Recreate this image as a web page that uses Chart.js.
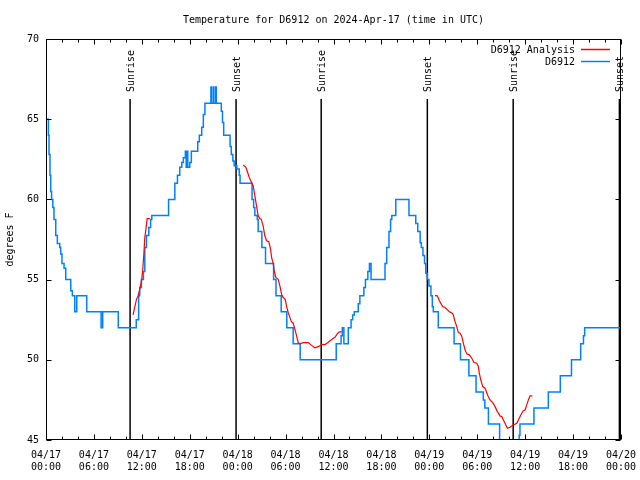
<!DOCTYPE html>
<html>
<head>
<meta charset="utf-8">
<script src="https://cdn.jsdelivr.net/npm/chart.js@4/dist/chart.umd.min.js"></script>
<style>
html,body{margin:0;padding:0;background:#fff;}
#wrap{width:640px;height:480px;}
</style>
</head>
<body>
<div id="wrap"><canvas id="c" width="640" height="480"></canvas></div>
<script>
// ---- Data (hours since 2024-04-17 00:00 UTC) ----
const chartTitle = 'Temperature for D6912 on 2024-Apr-17 (time in UTC)';
const yAxisTitle = 'degrees F';
const tickDates = ['04/17','04/17','04/17','04/17','04/18','04/18','04/18','04/18','04/19','04/19','04/19','04/19','04/20'];
const tickTimes = ['00:00','06:00','12:00','18:00','00:00','06:00','12:00','18:00','00:00','06:00','12:00','18:00','00:00'];

const sunriseHours = [10.53, 34.46, 58.5];
const sunsetHours = [23.8, 47.75, 71.8];

const obsLabel = 'D6912';
const obsHours = [0.0,0.3,0.38,0.5,0.59,0.7,0.85,1.0,1.22,1.42,1.72,1.84,2.0,2.26,2.47,3.1,3.3,3.6,3.85,5.1,6.9,7.1,9.05,
  11.3,11.6,11.74,11.95,12.2,12.37,12.58,12.87,13.1,13.25,15.35,16.13,16.46,16.75,17.0,17.2,17.45,17.55,17.65,17.75,18.0,18.2,
  19.0,19.2,19.5,19.7,19.9,20.65,20.72,20.95,21.02,21.25,21.32,21.95,22.1,22.25,23.05,23.2,23.4,23.56,23.9,24.2,24.3,25.8,26.0,
  26.15,26.45,26.57,27.03,27.49,28.5,28.8,29.45,30.15,30.95,31.83,36.34,36.95,37.1,37.3,37.85,38.2,38.4,38.6,39.1,39.3,39.8,
  40.0,40.3,40.5,40.7,42.45,42.66,42.95,43.15,43.3,43.8,45.45,46.3,46.55,46.85,47.0,47.2,47.4,47.55,47.75,47.95,48.2,48.37,
  48.5,49.12,51.1,51.9,52.95,53.85,54.75,54.95,55.4,56.8,59.25,59.35,61.1,62.9,64.4,65.8,66.95,67.3,67.45,72.0];
const obsTemps = [65,64,62.8,61.5,60.5,60,59.5,58.75,57.75,57.25,57,56.6,56,55.7,55,54.3,54,53,54,53,52,53,52,
  52.5,54,54.5,55,55.5,57,57.75,58.25,58.75,59,60,61,61.5,62,62.3,62.6,63,62,63,62,62.3,63,
  63.6,64,64.5,65.3,66,67,66,67,66,67,66,65.5,64.8,64,63.3,62.8,62.4,62.1,61.9,61.5,61,60,59.5,
  59,58.75,58,57,56,55,54,53,52,51,50,51,51.5,52,51,52,52.5,52.8,53,53.5,54,54.5,
  55,55.5,56,55,56,57,58,58.75,59,60,59,58.5,58,57.3,57,56.5,56,55.4,55,54.6,54,53.3,
  53,52,51,50,49,48,47.5,47,46,44,45.3,46,47,48,49,50,51,51.5,52,52];

const anaLabel = 'D6912 Analysis';
const anaHours = [10.9,11.12,11.33,11.53,11.74,11.95,12.08,12.24,12.37,12.5,12.66,13.0, null,
  24.69,25.03,25.24,25.44,25.74,25.94,26.15,26.36,26.57,26.78,26.94,27.19,27.4,27.62,27.9,28.12,28.25,28.45,28.58,28.78,
  29.07,29.29,29.5,29.7,29.95,30.12,30.33,30.54,30.75,30.96,31.17,31.38,31.58,31.79,32.21,32.83,33.26,33.67,34.09,34.51,
  34.93,35.34,35.76,36.18,36.47,36.68,37.02, null,
  48.71,49.0,49.21,49.42,49.67,49.96,50.17,50.5,50.88,51.0,51.22,51.43,51.63,51.84,52.05,52.26,52.47,52.68,53.01,53.31,
  53.6,53.94,54.14,54.26,54.44,54.69,54.97,55.19,55.39,55.6,55.94,56.23,56.52,56.86,57.07,57.27,57.48,57.77,58.11,58.32,
  58.52,58.95,59.15,59.36,59.57,59.77,59.99,60.2,60.4,60.61,60.9];
const anaTemps = [52.8,53.3,53.77,54.0,54.4,54.9,55.4,56.5,57.6,58.1,58.8,58.8, null,
  62.14,62.0,61.69,61.38,61.06,60.85,60.23,59.6,58.98,58.8,58.77,58.35,57.73,57.42,57.36,56.9,56.38,56.0,55.54,55.13,
  55.02,54.6,54.09,53.88,53.77,53.36,52.94,52.63,52.36,52.28,51.9,51.49,51.07,51.0,51.07,51.07,50.9,50.75,50.82,50.94,
  50.94,51.1,51.26,51.4,51.61,51.73,51.76, null,
  54.0,53.99,53.74,53.53,53.32,53.26,53.16,53.0,52.9,52.8,52.38,52.07,51.7,51.66,51.49,51.04,50.62,50.37,50.31,50.1,
  49.83,49.79,49.58,49.16,48.75,48.33,48.23,47.95,47.7,47.5,47.33,47.08,46.77,46.5,46.46,46.25,46.04,45.73,45.79,45.88,
  45.94,46.04,46.25,46.46,46.67,46.83,46.87,47.19,47.5,47.75,47.75];

// ---- Build points ----
const obsPoints = obsHours.map((h, i) => ({x: h, y: obsTemps[i]}));
const anaPoints = anaHours.map((h, i) => ({x: h === null ? (anaHours[i-1] + 0.01) : h, y: anaTemps[i]}));

const FONT = "'DejaVu Sans Mono', 'Liberation Mono', monospace";
const RED = '#ff0000';
const BLUE = '#0080ff';

const decor = {
  id: 'decor',
  beforeDatasetsDraw(chart) {
    const {ctx, chartArea: a, scales: {x}} = chart;
    ctx.save();
    ctx.strokeStyle = '#000';
    ctx.lineWidth = 1.5;
    ctx.fillStyle = '#000';
    ctx.font = '10px ' + FONT;
    const marks = sunriseHours.map(h => [h, 'Sunrise']).concat(sunsetHours.map(h => [h, 'Sunset']));
    marks.forEach(([h, t]) => {
      const px = x.getPixelForValue(h);
      ctx.beginPath();
      ctx.moveTo(px, a.top + 60);
      ctx.lineTo(px, a.bottom);
      ctx.stroke();
      ctx.save();
      ctx.translate(px + 1, a.top + 53);
      ctx.rotate(-Math.PI / 2);
      ctx.textAlign = 'left';
      ctx.textBaseline = 'middle';
      ctx.fillText(t, 0, 0);
      ctx.restore();
    });
    ctx.restore();
  },
  afterDraw(chart) {
    const {ctx, chartArea: a, scales: {x, y}} = chart;
    ctx.save();
    ctx.strokeStyle = '#000';
    ctx.lineWidth = 1;
    const L = Math.round(a.left) + 0.5, R = Math.round(a.right) - 0.5;
    const T = Math.round(a.top) + 0.5, B = Math.round(a.bottom) - 0.5;
    ctx.strokeRect(L, T, R - L, B - T);
    ctx.beginPath();
    for (let h = 0; h <= 72; h += 2) {
      const px = Math.round(x.getPixelForValue(h)) + 0.5;
      const len = (h % 6 === 0) ? 5 : 3;
      ctx.moveTo(px, B); ctx.lineTo(px, B - len);
      ctx.moveTo(px, T); ctx.lineTo(px, T + len);
    }
    for (let v = 45; v <= 70; v += 5) {
      const py = Math.round(y.getPixelForValue(v)) + 0.5;
      ctx.moveTo(L, py); ctx.lineTo(L + 5, py);
      ctx.moveTo(R, py); ctx.lineTo(R - 5, py);
    }
    ctx.stroke();
    // legend
    ctx.font = '10px ' + FONT;
    ctx.fillStyle = '#000';
    ctx.textAlign = 'right';
    ctx.textBaseline = 'middle';
    const ds = chart.data.datasets;
    ds.forEach((d, i) => {
      const ty = a.top + 11 + i * 12;
      ctx.fillText(d.label, a.right - 46, ty);
      ctx.strokeStyle = d.borderColor;
      ctx.lineWidth = 1.5;
      ctx.beginPath();
      ctx.moveTo(a.right - 40, ty - 0.5);
      ctx.lineTo(a.right - 11, ty - 0.5);
      ctx.stroke();
    });
    ctx.restore();
  }
};

new Chart(document.getElementById('c'), {
  type: 'line',
  data: {
    datasets: [
      {label: anaLabel, data: anaPoints, borderColor: RED, backgroundColor: RED, borderWidth: 1.2,
       pointRadius: 0, tension: 0, spanGaps: false},
      {label: obsLabel, data: obsPoints, borderColor: BLUE, backgroundColor: BLUE, borderWidth: 1.5,
       pointRadius: 0, stepped: 'before'}
    ]
  },
  options: {
    responsive: false,
    animation: false,
    events: [],
    layout: {padding: {top: 0, right: 19, bottom: 0, left: 0}},
    plugins: {
      legend: {display: false},
      tooltip: {enabled: false},
      title: {
        display: true, text: chartTitle, fullSize: false, color: '#000',
        font: {family: FONT, size: 10, weight: 'normal'},
        padding: {top: 14, bottom: 13}
      }
    },
    scales: {
      x: {
        type: 'linear', min: 0, max: 72,
        grid: {display: false, drawTicks: false},
        border: {display: false},
        afterFit(s) { s.height = 40; s.paddingLeft = 0; s.paddingRight = 0; },
        ticks: {
          stepSize: 6, autoSkip: false, maxRotation: 0, color: '#000', padding: 9,
          font: {family: FONT, size: 10},
          callback: (v) => { const i = Math.round(v / 6); return [tickDates[i], tickTimes[i]]; }
        }
      },
      y: {
        min: 45, max: 70,
        grid: {display: false, drawTicks: false},
        border: {display: false},
        afterFit(s) { s.width = 46; s.paddingTop = 0; s.paddingBottom = 0; },
        title: {display: true, text: yAxisTitle, color: '#000', font: {family: FONT, size: 10}, padding: {top: 4, bottom: 0}},
        ticks: {stepSize: 5, color: '#000', padding: 7, font: {family: FONT, size: 10}}
      }
    }
  },
  plugins: [decor]
});
</script>
</body>
</html>
